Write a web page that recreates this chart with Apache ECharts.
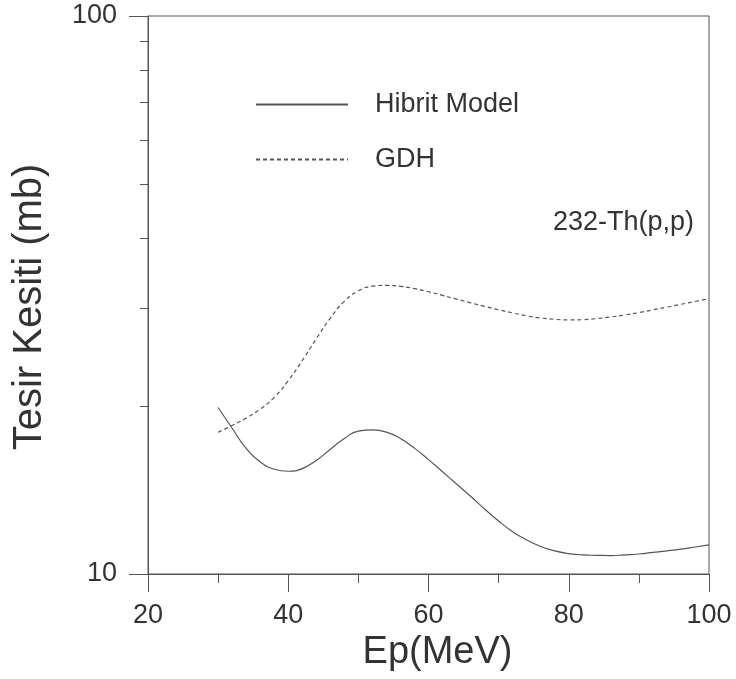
<!DOCTYPE html>
<html>
<head>
<meta charset="utf-8">
<script src="https://cdn.jsdelivr.net/npm/echarts@6/dist/echarts.min.js"></script>
<style>
  html, body { margin: 0; padding: 0; background: #fff; }
  #chart { width: 736px; height: 679px; }
</style>
</head>
<body>
<div id="chart"></div>
<script>
// proton energy (MeV)
const energy = [30, 32, 34, 36, 38, 40, 42, 44, 46, 48, 50, 52, 54, 56, 58, 60, 62, 64, 66, 68,
  70, 72, 74, 76, 78, 80, 82, 84, 86, 88, 90, 92, 94, 96, 98, 100]
// cross sections (mb)
const hibrit = [19.88, 18.25, 16.79, 15.88, 15.41, 15.28, 15.45, 15.98, 16.73, 17.5, 18.03, 18.12, 17.96, 17.49, 16.81, 16.03, 15.25, 14.5, 13.78, 13.08,
  12.44, 11.91, 11.51, 11.2, 11.0, 10.88, 10.82, 10.8, 10.79, 10.82, 10.86, 10.93, 11.0, 11.08, 11.18, 11.28]
const gdh = [17.95, 18.45, 19.03, 19.74, 20.73, 22.2, 24.13, 26.4, 28.75, 30.81, 32.17, 32.79, 32.91, 32.77, 32.47, 32.05, 31.58, 31.09, 30.62, 30.17,
  29.75, 29.37, 29.02, 28.76, 28.6, 28.53, 28.56, 28.69, 28.88, 29.12, 29.41, 29.74, 30.08, 30.43, 30.79, 31.14]
const seriesNames = ['Hibrit Model', 'GDH']
const reactionLabel = '232-Th(p,p)'

const font = 'Liberation Sans, Arial, sans-serif'
const lineColor = '#555'
const textColor = '#333'

const pairs = (ys) => energy.map((x, i) => [x, ys[i]])

const chart = echarts.init(document.getElementById('chart'))
const option = {
  animation: false,
  backgroundColor: '#fff',
  grid: {
    left: 148,
    right: 27,
    top: 16,
    bottom: 105,
    show: true,
    borderColor: lineColor,
    borderWidth: 1
  },
  legend: {
    orient: 'vertical',
    left: 250,
    top: 86,
    itemWidth: 92,
    itemHeight: 10,
    itemGap: 28,
    data: seriesNames,
    itemStyle: { opacity: 0 },
    textStyle: {
      fontFamily: font,
      fontSize: 27,
      color: textColor,
      padding: [0, 0, 0, 22]
    }
  },
  graphic: [{
    type: 'text',
    left: 553,
    top: 209,
    style: {
      text: reactionLabel,
      font: '27px ' + font,
      fill: textColor
    }
  }],
  xAxis: {
    type: 'value',
    min: 20,
    max: 100,
    interval: 20,
    name: 'Ep(MeV)',
    nameLocation: 'middle',
    nameGap: 58,
    nameTextStyle: { fontFamily: font, fontSize: 38, color: textColor, padding: [0, 0, 0, 18] },
    axisLine: { lineStyle: { color: lineColor, width: 1 } },
    axisTick: { inside: false, length: 18, lineStyle: { color: lineColor } },
    minorTick: { show: true, splitNumber: 2, length: 9, lineStyle: { color: lineColor } },
    splitLine: { show: false },
    axisLabel: { margin: 28, fontFamily: font, fontSize: 27, color: textColor }
  },
  yAxis: {
    type: 'log',
    logBase: 10,
    min: 10,
    max: 100,
    name: 'Tesir Kesiti (mb)',
    nameLocation: 'middle',
    nameGap: 98,
    nameTextStyle: { fontFamily: font, fontSize: 40, color: textColor, padding: [0, 24, 0, 0] },
    axisLine: { lineStyle: { color: lineColor, width: 1 } },
    axisTick: { inside: false, length: 19, lineStyle: { color: lineColor } },
    minorTick: { show: true, splitNumber: 9, length: 8, lineStyle: { color: lineColor } },
    splitLine: { show: false },
    minorSplitLine: { show: false },
    axisLabel: { margin: 31, fontFamily: font, fontSize: 27, color: textColor }
  },
  series: [
    {
      name: seriesNames[0],
      type: 'line',
      smooth: true,
      symbol: 'none',
      lineStyle: { color: lineColor, width: 1.2, type: 'solid' },
      itemStyle: { color: lineColor },
      data: pairs(hibrit)
    },
    {
      name: seriesNames[1],
      type: 'line',
      smooth: true,
      symbol: 'none',
      lineStyle: { color: lineColor, width: 1.2, type: [4, 3] },
      itemStyle: { color: lineColor },
      data: pairs(gdh)
    }
  ]
}
chart.setOption(option)
</script>
</body>
</html>
